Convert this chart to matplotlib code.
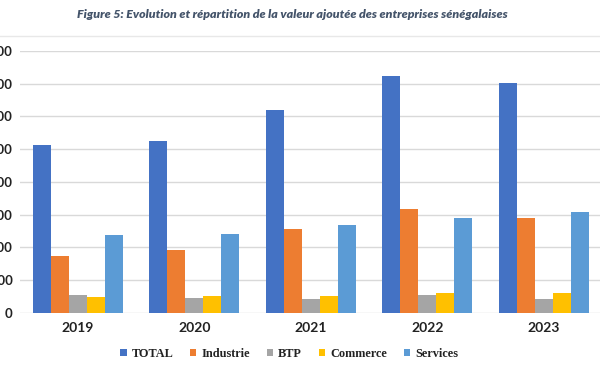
import numpy as np
import matplotlib.pyplot as plt
from matplotlib.lines import Line2D

# data
years = ["2019", "2020", "2021", "2022", "2023"]
series = ["TOTAL", "Industrie", "BTP", "Commerce", "Services"]
total = [5120, 5260, 6190, 7230, 7020]
industrie = [1720, 1920, 2570, 3180, 2910]
btp = [540, 440, 430, 540, 430]
commerce = [470, 500, 520, 590, 600]
services = [2380, 2410, 2670, 2900, 3080]
yticks = [0, 1000, 2000, 3000, 4000, 5000, 6000, 7000, 8000]

colors = ["#4472C4", "#ED7D31", "#A5A5A5", "#FFC000", "#5B9BD5"]


def main():
    fig = plt.figure(figsize=(6, 3.72), dpi=100)
    ax = fig.add_axes([0.0329, 0.1594, 0.9704, 0.7035])

    values = [total, industrie, btp, commerce, services]
    x = np.arange(len(years))
    w = 0.1545
    for j, (name, vals) in enumerate(zip(series, values)):
        ax.bar(x + (j - 2) * w, vals, width=w, color=colors[j], label=name, zorder=3)

    ax.set_xlim(-0.5, len(years) - 0.5)
    ax.set_ylim(0, 8000)
    ax.set_yticks(yticks)
    # the left part of the y labels falls outside the figure, as in the original
    ax.set_yticklabels([str(v) for v in yticks], fontsize=9.5, fontweight="bold",
                       family="Lato", color="#222222")
    ax.set_xticks(x)
    ax.set_xticklabels(years, fontsize=10, fontweight="bold", family="Lato", color="#222222")
    ax.tick_params(length=0, axis="y", pad=5)
    ax.tick_params(length=0, axis="x", pad=7)
    ax.grid(axis="y", color="#d9d9d9", linewidth=1, zorder=0)
    for s in ax.spines.values():
        s.set_visible(False)

    # light line under the title
    fig.add_artist(Line2D([0, 1], [1 - 36 / 372, 1 - 36 / 372], color="#e8e8e8", linewidth=1))

    fig.text(0.487, 1 - 14 / 372,
             "Figure 5: Evolution et répartition de la valeur ajoutée des entreprises sénégalaises",
             ha="center", va="center", fontsize=8.9, fontweight="heavy", style="italic",
             family="Lato", color="#44546A")

    leg = fig.legend(loc="center", bbox_to_anchor=(0.482, 1 - 354 / 372), ncol=5,
                     frameon=False, handlelength=0.5, handleheight=0.5, handletextpad=0.4,
                     columnspacing=1.4,
                     prop={"family": "Liberation Serif", "weight": "bold", "size": 8.8})
    for t in leg.get_texts():
        t.set_color("#222222")

    fig.savefig("out.png", dpi=100)


if __name__ == "__main__":
    main()
